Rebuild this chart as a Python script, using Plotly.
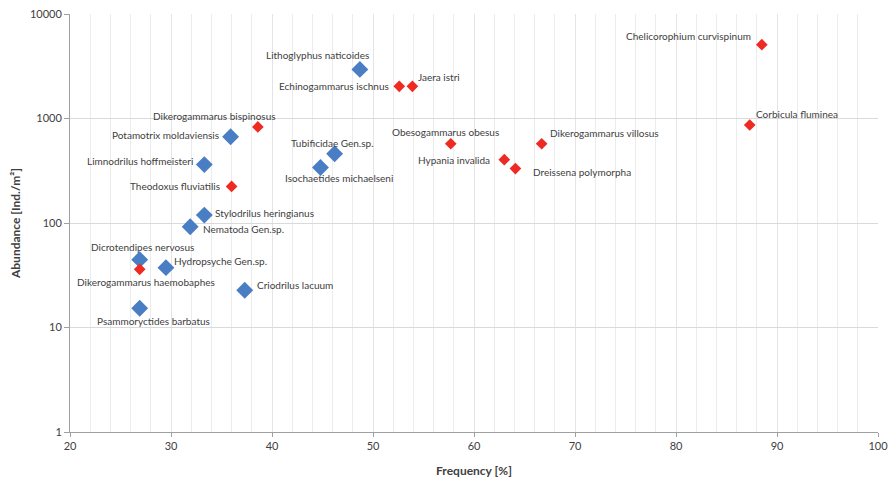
import math
import plotly.graph_objects as go

# ---------------- data ----------------
blue_names = ["Lithoglyphus naticoides", "Potamotrix moldaviensis", "Limnodrilus hoffmeisteri",
              "Tubificidae Gen.sp.", "Isochaetides michaelseni", "Stylodrilus heringianus",
              "Nematoda Gen.sp.", "Dicrotendipes nervosus", "Hydropsyche Gen.sp.",
              "Criodrilus lacuum", "Psammoryctides barbatus"]
blue_freq = [48.7, 35.9, 33.3, 46.2, 44.8, 33.3, 31.9, 26.9, 29.5, 37.3, 26.9]
blue_abund = [2950, 670, 362, 460, 340, 119, 92, 44.6, 37.4, 22.7, 15.3]

red_names = ["Dikerogammarus bispinosus", "Theodoxus fluviatilis", "Dikerogammarus haemobaphes",
             "Echinogammarus ischnus", "Jaera istri", "Obesogammarus obesus",
             "Dikerogammarus villosus", "Hypania invalida", "Dreissena polymorpha",
             "Chelicorophium curvispinum", "Corbicula fluminea"]
red_freq = [38.6, 36.0, 26.9, 52.6, 53.9, 57.7, 66.7, 63.0, 64.1, 88.5, 87.3]
red_abund = [830, 224, 36, 2030, 2030, 573, 573, 404, 332, 5090, 867]

y_tickvals = [1, 10, 100, 1000, 10000]
y_ticktext = ["1", "10", "100", "1000", "10000"]
x_tickvals = [20, 30, 40, 50, 60, 70, 80, 90, 100]

# label placement (style): (xanchor, xshift, yshift)
blue_lbl = [("right", 11, 14), ("right", -10, 2), ("right", -9, 4),
            ("center", -2, 11), ("center", 19, -11), ("left", 9, 2),
            ("left", 11, -2), ("center", 3, 13), ("left", 6, 7),
            ("left", 10, 5), ("center", 14, -13)]
red_lbl = [("right", 20, 11), ("right", -10, 0), ("center", 6, -13),
           ("right", -8, 0), ("left", 4, 9), ("center", -5, 12),
           ("left", 6, 11), ("right", -12, 0), ("left", 16, -3),
           ("right", -9, 9), ("left", 4, 11)]

BLUE = "#4A7EC4"
RED = "#EE2A22"
FONT = "Lato"

fig = go.Figure()
fig.add_trace(go.Scatter(x=blue_freq, y=blue_abund, mode="markers",
                         marker=dict(symbol="diamond", size=13, color=BLUE),
                         showlegend=False, hoverinfo="text", text=blue_names))
fig.add_trace(go.Scatter(x=red_freq, y=red_abund, mode="markers",
                         marker=dict(symbol="diamond", size=9, color=RED),
                         showlegend=False, hoverinfo="text", text=red_names))

annotations = []
for names, xs, ys, lbls in [(blue_names, blue_freq, blue_abund, blue_lbl),
                            (red_names, red_freq, red_abund, red_lbl)]:
    for n, x, y, (xa, xs_, ys_) in zip(names, xs, ys, lbls):
        annotations.append(dict(x=x, y=math.log10(y), text=n, showarrow=False,
                                xanchor=xa, yanchor="middle", xshift=xs_, yshift=ys_,
                                font=dict(family=FONT, size=10, color="#404040")))

# the page body adds an 8px margin on every side
fig.update_layout(
    width=880, height=470,
    margin=dict(l=62, r=10, t=6, b=46),
    plot_bgcolor="white", paper_bgcolor="white",
    annotations=annotations,
    font=dict(family=FONT, color="#404040"),
    xaxis=dict(range=[20, 100], tickvals=x_tickvals, showgrid=True, gridcolor="#e4e4e4",
               gridwidth=1, minor=dict(dtick=2, showgrid=True, gridcolor="#ececec"),
               showline=True, linecolor="#a0a0a0", linewidth=1, mirror=False,
               ticks="outside", ticklen=4, tickcolor="#a0a0a0", zeroline=False,
               automargin=False, ticklabeloverflow="allow",
               tickfont=dict(size=11, color="#404040"),
               title=dict(text="<b>Frequency [%]</b>", font=dict(size=12, color="#404040"),
                          standoff=17)),
    yaxis=dict(type="log", range=[0, 4], tickvals=y_tickvals, ticktext=y_ticktext,
               showgrid=True, gridcolor="#dadada", gridwidth=1,
               showline=True, linecolor="#a0a0a0", linewidth=1,
               ticks="outside", ticklen=5, tickcolor="#a0a0a0", zeroline=False,
               automargin=False, ticklabeloverflow="allow",
               tickfont=dict(size=11, color="#404040"),
               title=dict(text="<b>Abundance [Ind./m²]</b>", font=dict(size=12, color="#404040"),
                          standoff=8)),
)

fig.write_html("out.html")
